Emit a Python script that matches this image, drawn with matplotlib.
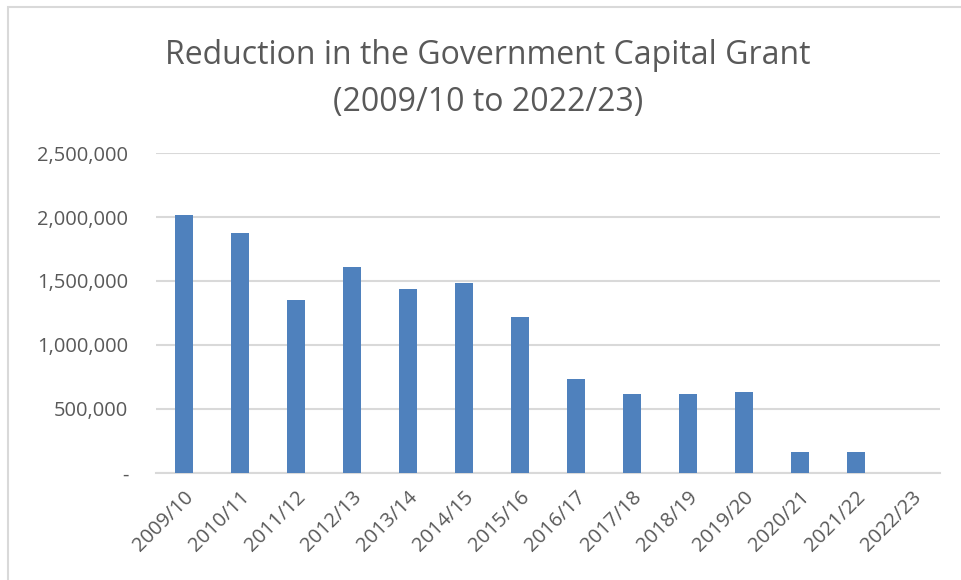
import matplotlib.pyplot as plt
from matplotlib.ticker import FuncFormatter
from matplotlib.patches import Rectangle

years = ['2009/10', '2010/11', '2011/12', '2012/13', '2013/14', '2014/15', '2015/16',
         '2016/17', '2017/18', '2018/19', '2019/20', '2020/21', '2021/22', '2022/23']
grant_cut = [2015000, 1878000, 1354000, 1607000, 1437000, 1487000, 1216000,
             737000, 617000, 617000, 635000, 167000, 167000, 0]
yticks = [0, 500000, 1000000, 1500000, 2000000, 2500000]

plt.rcParams['font.family'] = ['Open Sans', 'DejaVu Sans']
grey = '#595959'

fig = plt.figure(figsize=(9.61, 5.80), dpi=100)
ax = fig.add_axes([0.1623, 0.1845, 0.8157, 0.5517])

x = list(range(len(years)))
ax.bar(x, grant_cut, width=0.32, color='#4F81BD', zorder=3)

ax.set_xlim(-0.5, len(years) - 0.5)
ax.set_ylim(0, 2500000)
ax.set_yticks(yticks)
ax.yaxis.set_major_formatter(FuncFormatter(lambda v, p: '-' if v == 0 else f'{int(v):,}'))
ax.set_xticks(x)
ax.set_xticklabels(years, rotation=45, ha='right', rotation_mode='anchor')

ax.grid(axis='y', color='#D9D9D9', linewidth=1.5, zorder=0)
for s in ['top', 'right', 'left']:
    ax.spines[s].set_visible(False)
ax.spines['bottom'].set_color('#D9D9D9')
ax.spines['bottom'].set_linewidth(1.5)
ax.tick_params(axis='both', length=0, labelsize=14.5, colors=grey)
ax.tick_params(axis='y', pad=20)
ax.tick_params(axis='x', pad=10)

fig.text(0.508, 0.904, 'Reduction in the Government Capital Grant',
         ha='center', va='center', fontsize=23, color=grey)
fig.text(0.508, 0.824, '(2009/10 to 2022/23)',
         ha='center', va='center', fontsize=23, color=grey)

# chart border
fig.patches.append(Rectangle((0.008, -0.01), 1.0, 0.998, transform=fig.transFigure,
                             fill=False, edgecolor='#D9D9D9', linewidth=1.5))

fig.savefig('out.png', dpi=100)
